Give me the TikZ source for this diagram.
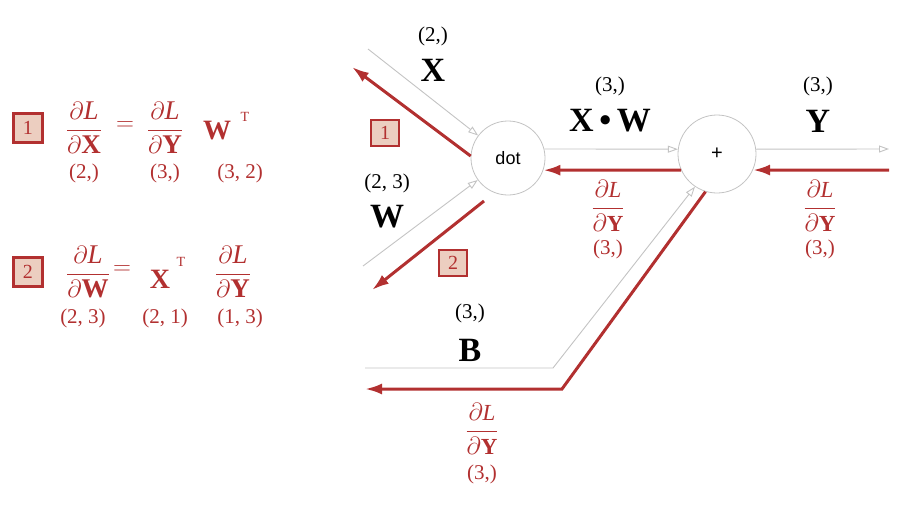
\documentclass[tikz,border=0pt]{standalone}
\usepackage{amsmath}
\usepackage{fontspec}
\setmainfont{Liberation Serif}
\newfontfamily\dotfont{Liberation Sans}
\usetikzlibrary{arrows.meta}
\definecolor{dred}{RGB}{178,48,48}
\definecolor{boxfill}{RGB}{236,206,192}
\definecolor{lgray}{RGB}{195,195,195}
\tikzset{
 opnode/.style={circle, draw=lgray, line width=0.8pt, inner sep=0pt, font=\dotfont\fontsize{18}{20}\selectfont},
 fwd/.style={draw=lgray, line width=0.9pt, -{Triangle[open,length=10pt,width=7pt]}},
 bwd/.style={draw=dred, line width=3pt, -{Latex[length=17pt,width=11pt]}},
 shp/.style={font=\fontsize{21}{22}\selectfont, inner sep=0pt},
 var/.style={font=\bfseries\fontsize{34}{36}\selectfont, inner sep=0pt},
 rlab/.style={text=dred, font=\fontsize{21}{23}\selectfont, inner sep=0pt},
 rfrac/.style={text=dred, font=\fontsize{23}{25}\selectfont, inner sep=0pt},
 lfrac/.style={text=dred, font=\fontsize{27}{29}\selectfont, inner sep=0pt},
 rbig/.style={text=dred, font=\bfseries\fontsize{28}{30}\selectfont, inner sep=0pt},
 sup/.style={text=dred, font=\fontsize{14}{15}\selectfont, inner sep=0pt},
 numbox/.style={draw=dred, line width=2.7pt, fill=boxfill, text=dred, minimum width=28pt, minimum height=26pt, inner sep=0pt, font=\fontsize{20}{22}\selectfont},
}
\newcommand{\pdL}[1]{$\displaystyle\genfrac{}{}{1.5pt}{0}{\partial\textit{L}}{\partial\textbf{#1}}$}
\begin{document}
\begin{tikzpicture}[x=1pt,y=-1pt]
\useasboundingbox (0,0) rectangle (916,514);
% operation nodes
\node[opnode, minimum size=74pt] (dot) at (508,158) {dot};
\node[opnode, minimum size=78pt] (plus) at (717,154) {\fontsize{20}{20}\selectfont +};
% free ends
\coordinate (xin) at (368,49);
\coordinate (win) at (363,266);
\coordinate (xout) at (352,67);
\coordinate (wout) at (372,290);
\coordinate (w2s) at (484,201);
\coordinate (yout) at (889,149);
\coordinate (yin) at (889,170);
\coordinate (bin) at (365,368);
\coordinate (bcorn) at (553,368);
\coordinate (bout) at (365,389);
\coordinate (brcorn) at (562,389);
% forward (gray)
\draw[fwd] (xin) -- (dot.143);
\draw[fwd] (win) -- (dot.216);
\draw[fwd] (dot.14) -- (plus.173);
\draw[fwd] (plus.7) -- (yout);
\draw[fwd] (bin) -- (bcorn) -- (plus.236);
% backward (red)
\draw[bwd] (dot.177) -- (xout);
\draw[bwd] (w2s) -- (wout);
\draw[bwd] (plus.204) -- (dot.-19);
\draw[bwd] (yin) -- (plus.-24);
\draw[bwd] (plus.253) -- (brcorn) -- (bout);
% black labels
\node[shp] (sx) at (433,36) {(2,)};
\node[var] (lx) at (433,70) {X};
\node[shp] (sw) at (387,183) {(2, 3)};
\node[var] (lw) at (387,217) {W};
\node[shp] (sxw) at (610,86) {(3,)};
\node[var] (lxw) at (610,121) {X\,\textbullet\,W};
\node[shp] (sy) at (818,86) {(3,)};
\node[var] (ly) at (818,121) {Y};
\node[shp] (sb) at (470,313) {(3,)};
\node[var] (lb) at (470,350) {B};
% boxes in diagram
\node[numbox] (b1) at (385,133) {1};
\node[numbox] (b2) at (453,263) {2};
% red labels in diagram
\node[rfrac] (g1) at (608,206) {\pdL{Y}};
\node[rlab] (g1s) at (608,249) {(3,)};
\node[rfrac] (g2) at (820,206) {\pdL{Y}};
\node[rlab] (g2s) at (820,249) {(3,)};
\node[rfrac] (g3) at (482,429) {\pdL{Y}};
\node[rlab] (g3s) at (482,474) {(3,)};
% left equations row 1
\node[numbox, minimum width=29pt, minimum height=29pt] (e1) at (28,128) {1};
\node[lfrac] (e1a) at (84,128) {\pdL{X}};
\node[lfrac] (e1eq) at (125,126) {$=$};
\node[lfrac] (e1b) at (165,128) {\pdL{Y}};
\node[rbig] (e1c) at (217,131) {W};
\node[sup] (e1t) at (245,117) {T};
\node[rlab] (e1d) at (84,173) {(2,)};
\node[rlab] (e1e) at (165,173) {(3,)};
\node[rlab] (e1f) at (240,173) {(3, 2)};
% left equations row 2
\node[numbox, minimum width=29pt, minimum height=29pt] (e2) at (28,272) {2};
\node[lfrac] (e2a) at (88,272) {\pdL{W}};
\node[lfrac] (e2eq) at (122,270) {$=$};
\node[rbig] (e2c) at (160,279) {X};
\node[sup] (e2t) at (181,262) {T};
\node[lfrac] (e2b) at (233,272) {\pdL{Y}};
\node[rlab] (e2d) at (83,318) {(2, 3)};
\node[rlab] (e2e) at (165,318) {(2, 1)};
\node[rlab] (e2f) at (240,318) {(1, 3)};
\end{tikzpicture}
\end{document}
